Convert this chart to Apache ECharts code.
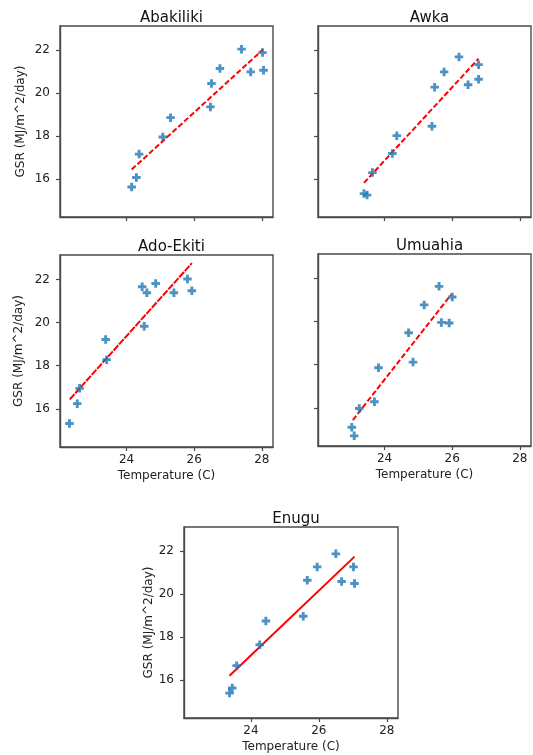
<!DOCTYPE html>
<html>
<head>
<meta charset="utf-8">
<script src="https://cdn.jsdelivr.net/npm/echarts@6/dist/echarts.min.js"></script>
<style>
  html, body { margin: 0; padding: 0; background: #fff; }
  #chart { width: 533px; height: 755px; }
</style>
</head>
<body>
<div id="chart"></div>
<script>
// Monthly mean temperature (C) vs global solar radiation (MJ/m^2/day), five stations.
const cities = ['Abakiliki', 'Awka', 'Ado-Ekiti', 'Umuahia', 'Enugu'];

const abakilikiTemp = [24.15, 24.29, 24.37, 25.07, 25.30, 26.48, 26.51, 26.76, 27.40, 27.67, 28.02, 28.05];
const abakilikiGsr  = [15.63, 16.07, 17.16, 17.96, 18.86, 19.36, 20.45, 21.15, 22.05, 20.99, 21.89, 21.07];
const abakilikiFitTemp = [24.15, 28.03];
const abakilikiFitGsr  = [16.44, 22.03];

const awkaTemp = [23.39, 23.48, 23.64, 24.23, 24.36, 25.40, 25.48, 25.76, 26.20, 26.47, 26.78, 26.78];
const awkaGsr  = [15.32, 15.25, 16.30, 17.19, 18.02, 18.46, 20.28, 20.99, 21.69, 20.39, 21.33, 20.65];
const awkaFitTemp = [23.39, 26.78];
const awkaFitGsr  = [15.82, 21.61];

const adoTemp = [22.31, 22.54, 22.61, 23.38, 23.41, 24.46, 24.52, 24.60, 24.86, 25.40, 25.80, 25.93];
const adoGsr  = [15.32, 16.24, 16.95, 19.21, 18.28, 21.66, 19.83, 21.38, 21.81, 21.38, 22.02, 21.47];
const adoFitTemp = [22.32, 25.93];
const adoFitGsr  = [16.44, 22.75];

const umuahiaTemp = [23.03, 23.10, 23.25, 23.70, 23.82, 24.71, 24.84, 25.17, 25.61, 25.68, 25.91, 26.00];
const umuahiaGsr  = [15.10, 14.70, 15.97, 16.28, 17.86, 19.48, 18.12, 20.77, 21.63, 19.96, 19.93, 21.14];
const umuahiaFitTemp = [23.06, 25.97];
const umuahiaFitGsr  = [15.43, 21.25];

const enuguTemp = [23.37, 23.45, 23.58, 24.26, 24.44, 25.54, 25.66, 25.95, 26.50, 26.67, 27.02, 27.05];
const enuguGsr  = [15.39, 15.63, 16.67, 17.64, 18.75, 18.97, 20.65, 21.27, 21.88, 20.59, 21.27, 20.50];
const enuguFitTemp = [23.37, 27.05];
const enuguFitGsr  = [16.20, 21.75];

const xTicks = [24, 26, 28];
const yTicks = [16, 18, 20, 22];
const xLabel = 'Temperature (C)';
const yLabel = 'GSR (MJ/m^2/day)';

const stations = [
  { temp: abakilikiTemp, gsr: abakilikiGsr, fitT: abakilikiFitTemp, fitG: abakilikiFitGsr },
  { temp: awkaTemp, gsr: awkaGsr, fitT: awkaFitTemp, fitG: awkaFitGsr },
  { temp: adoTemp, gsr: adoGsr, fitT: adoFitTemp, fitG: adoFitGsr },
  { temp: umuahiaTemp, gsr: umuahiaGsr, fitT: umuahiaFitTemp, fitG: umuahiaFitGsr },
  { temp: enuguTemp, gsr: enuguGsr, fitT: enuguFitTemp, fitG: enuguFitGsr }
];

// Panel layout (pixels) and per-panel axis decorations
const panels = [
  { left: 60,  top: 26,  width: 213, height: 191, xLabels: false, yLabels: true,  showYName: true,  yGap: 33, dash: [5.5, 2.4] },
  { left: 318, top: 26,  width: 213, height: 191, xLabels: false, yLabels: false, showYName: false, yGap: 33, dash: [5.5, 2.4] },
  { left: 60,  top: 255, width: 213, height: 192, xLabels: true,  yLabels: true,  showYName: true,  yGap: 35, dash: [7, 1.2] },
  { left: 318, top: 254, width: 213, height: 192, xLabels: true,  yLabels: false, showYName: false, yGap: 35, dash: [5.5, 2.4] },
  { left: 184, top: 527, width: 214, height: 191, xLabels: true,  yLabels: true,  showYName: true,  yGap: 27, dash: 'solid' }
];

const FONT = 'DejaVu Sans';
const TEXT = '#222';
const AXIS = '#4a4a4a';
const plusPath = 'path://M3.3,0H6.7V3.3H10V6.7H6.7V10H3.3V6.7H0V3.3H3.3Z';

const grid = [], xAxis = [], yAxis = [], series = [], title = [];

panels.forEach((p, i) => {
  grid.push({
    left: p.left, top: p.top, width: p.width, height: p.height,
    show: true, borderColor: AXIS, borderWidth: 1.4, backgroundColor: 'transparent'
  });
  title.push({
    text: cities[i],
    left: p.left + p.width / 2, top: p.top - 20, textAlign: 'center',
    textStyle: { fontFamily: FONT, fontSize: 15, fontWeight: 'normal', color: '#111' }
  });
  xAxis.push({
    type: 'value', gridIndex: i, min: 22.03, max: 28.33,
    axisLine: { show: true, lineStyle: { color: AXIS, width: 1.4 } },
    axisTick: { show: true, length: 4, customValues: xTicks, lineStyle: { color: AXIS, width: 1.2 } },
    axisLabel: { show: p.xLabels, customValues: xTicks, margin: 7,
      fontFamily: FONT, fontSize: 12, color: TEXT },
    splitLine: { show: false },
    name: p.xLabels ? xLabel : '',
    nameLocation: 'middle', nameGap: 23,
    nameTextStyle: { fontFamily: FONT, fontSize: 12, color: TEXT }
  });
  yAxis.push({
    type: 'value', gridIndex: i, min: 14.23, max: 23.13,
    axisLine: { show: true, lineStyle: { color: AXIS, width: 1.4 } },
    axisTick: { show: true, length: 4, customValues: yTicks, lineStyle: { color: AXIS, width: 1.2 } },
    axisLabel: { show: p.yLabels, customValues: yTicks, margin: 10,
      fontFamily: FONT, fontSize: 12, color: TEXT },
    splitLine: { show: false },
    name: p.showYName ? yLabel : '',
    nameLocation: 'middle', nameGap: p.yGap,
    nameTextStyle: { fontFamily: FONT, fontSize: 12, color: TEXT }
  });

  const st = stations[i];
  series.push({
    type: 'line', xAxisIndex: i, yAxisIndex: i,
    data: st.fitT.map((t, k) => [t, st.fitG[k]]),
    showSymbol: false, silent: true, z: 2,
    lineStyle: { color: '#ff0000', width: 2, type: p.dash }
  });
  series.push({
    type: 'scatter', xAxisIndex: i, yAxisIndex: i,
    data: st.temp.map((t, k) => [t, st.gsr[k]]),
    symbol: plusPath, symbolSize: 8.5, z: 3,
    itemStyle: { color: '#1f77b4' }
  });
});

const chart = echarts.init(document.getElementById('chart'), null, { renderer: 'canvas' });
chart.setOption({
  animation: false,
  backgroundColor: '#fff',
  title, grid, xAxis, yAxis, series
});
</script>
</body>
</html>
